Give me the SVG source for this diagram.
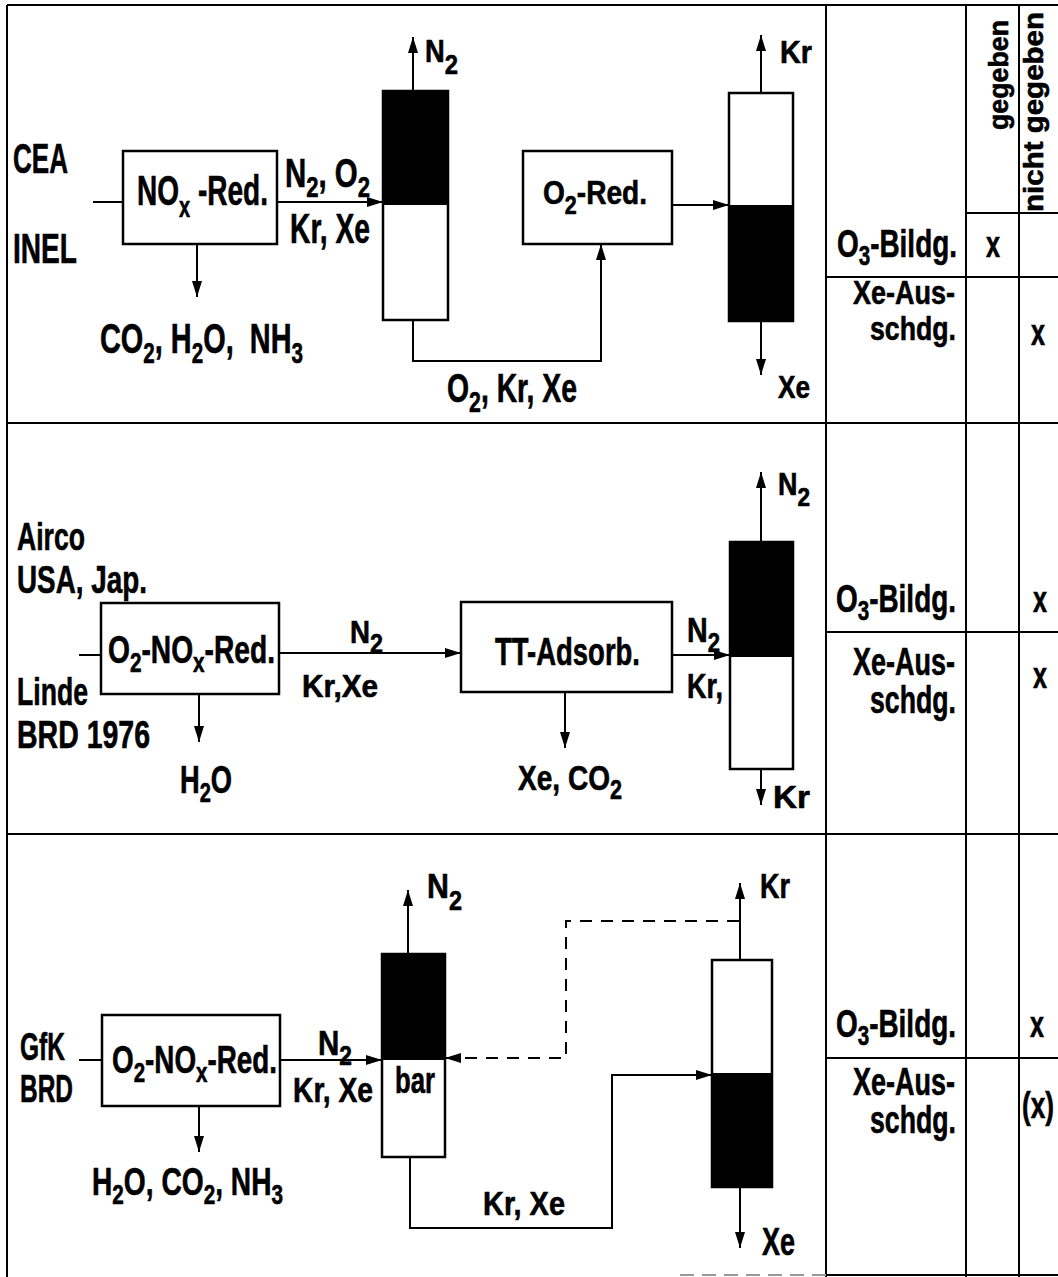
<svg xmlns="http://www.w3.org/2000/svg" width="1058" height="1277" viewBox="0 0 1058 1277">
<style>
text{font-family:"Liberation Sans",Arial,sans-serif;font-weight:bold;fill:#000;stroke:#000;stroke-width:0.6}
.box{fill:#fff;stroke:#000;stroke-width:2.5}
.col{fill:#fff;stroke:#000;stroke-width:2.5}
.blk{fill:#000}
.ln{fill:none;stroke:#000;stroke-width:2}
.dash{fill:none;stroke:#000;stroke-width:2;stroke-dasharray:12 9}
.grid{fill:none;stroke:#000;stroke-width:2}
.r{text-anchor:end}
.m{text-anchor:middle}
</style>
<defs>
<marker id="ah" viewBox="0 0 16 10" refX="16" refY="5" markerWidth="16" markerHeight="10" markerUnits="userSpaceOnUse" orient="auto"><path d="M0,0 L16,5 L0,10 z" fill="#000"/></marker>
</defs>
<rect x="0" y="0" width="1058" height="1277" fill="#fff"/>

<g id="frame">
<path class="grid" d="M7 5 V1277 M7 5 H1058 M7 423 H1058 M7 834 H1058 M826 5 V1277 M966 5 V1277 M1019 5 V1277 M966 213 H1058 M826 277 H1058 M826 632 H1058 M826 1058 H1058 M826 1275 H1058"/>
<path d="M680 1275 H826" stroke="#999" stroke-width="2" stroke-dasharray="14 8"/>
</g>

<g id="table">
<text transform="translate(1008,130) rotate(-90)" font-size="28" textLength="110" lengthAdjust="spacingAndGlyphs">gegeben</text>
<text transform="translate(1043,212) rotate(-90)" font-size="28" textLength="200" lengthAdjust="spacingAndGlyphs">nicht gegeben</text>
<text class="r" x="957" y="257" font-size="38" textLength="120" lengthAdjust="spacingAndGlyphs">O<tspan dy="8" font-size="28">3</tspan><tspan dy="-8">-Bildg.</tspan></text>
<text class="r" x="955" y="304" font-size="34" textLength="102" lengthAdjust="spacingAndGlyphs">Xe-Aus-</text>
<text class="r" x="956" y="340" font-size="34" textLength="86" lengthAdjust="spacingAndGlyphs">schdg.</text>
<text class="m" x="993" y="257" font-size="36" textLength="14" lengthAdjust="spacingAndGlyphs">x</text>
<text class="m" x="1038" y="345" font-size="36" textLength="14" lengthAdjust="spacingAndGlyphs">x</text>

<text class="r" x="956" y="612" font-size="38" textLength="120" lengthAdjust="spacingAndGlyphs">O<tspan dy="8" font-size="28">3</tspan><tspan dy="-8">-Bildg.</tspan></text>
<text class="r" x="955" y="675" font-size="38" textLength="102" lengthAdjust="spacingAndGlyphs">Xe-Aus-</text>
<text class="r" x="956" y="713" font-size="38" textLength="86" lengthAdjust="spacingAndGlyphs">schdg.</text>
<text class="m" x="1040" y="612" font-size="36" textLength="14" lengthAdjust="spacingAndGlyphs">x</text>
<text class="m" x="1040" y="688" font-size="36" textLength="14" lengthAdjust="spacingAndGlyphs">x</text>

<text class="r" x="956" y="1037" font-size="38" textLength="120" lengthAdjust="spacingAndGlyphs">O<tspan dy="8" font-size="28">3</tspan><tspan dy="-8">-Bildg.</tspan></text>
<text class="r" x="955" y="1095" font-size="38" textLength="102" lengthAdjust="spacingAndGlyphs">Xe-Aus-</text>
<text class="r" x="956" y="1133" font-size="38" textLength="86" lengthAdjust="spacingAndGlyphs">schdg.</text>
<text class="m" x="1037" y="1037" font-size="36" textLength="14" lengthAdjust="spacingAndGlyphs">x</text>
<text class="m" x="1038" y="1118" font-size="36" textLength="32" lengthAdjust="spacingAndGlyphs">(x)</text>
</g>

<g id="connectors">
<path class="ln" d="M93 202 H123"/>
<path class="ln" d="M277 202 H383" marker-end="url(#ah)"/>
<path class="ln" d="M197 244 V297" marker-end="url(#ah)"/>
<path class="ln" d="M413 91 V37" marker-end="url(#ah)"/>
<path class="ln" d="M413 320 V361 H601 V244" marker-end="url(#ah)"/>
<path class="ln" d="M672 205 H729" marker-end="url(#ah)"/>
<path class="ln" d="M761 93 V35" marker-end="url(#ah)"/>
<path class="ln" d="M761 321 V375" marker-end="url(#ah)"/>

<path class="ln" d="M79 655 H101"/>
<path class="ln" d="M279 653 H461" marker-end="url(#ah)"/>
<path class="ln" d="M199 694 V742" marker-end="url(#ah)"/>
<path class="ln" d="M565 692 V748" marker-end="url(#ah)"/>
<path class="ln" d="M672 655 H730" marker-end="url(#ah)"/>
<path class="ln" d="M761 542 V472" marker-end="url(#ah)"/>
<path class="ln" d="M761 769 V805" marker-end="url(#ah)"/>

<path class="ln" d="M79 1060 H102"/>
<path class="ln" d="M280 1060 H382" marker-end="url(#ah)"/>
<path class="ln" d="M199 1106 V1152" marker-end="url(#ah)"/>
<path class="ln" d="M408 954 V890" marker-end="url(#ah)"/>
<path class="ln" d="M410 1157 V1228 H612 V1075 H712" marker-end="url(#ah)"/>
<path class="dash" d="M739 921 H566 V1058 H445" marker-end="url(#ah)"/>
<path class="ln" d="M740 960 V883" marker-end="url(#ah)"/>
<path class="ln" d="M740 1187 V1248" marker-end="url(#ah)"/>
</g>

<!-- Section 1 -->
<g id="src1">
<text x="13" y="173" font-size="42" textLength="55" lengthAdjust="spacingAndGlyphs">CEA</text>
<text x="13" y="263" font-size="42" textLength="64" lengthAdjust="spacingAndGlyphs">INEL</text>
</g>
<g id="noxred1">
<rect class="box" x="123" y="151" width="154" height="93"/>
<text x="137" y="205" font-size="42" textLength="131" lengthAdjust="spacingAndGlyphs">NO<tspan dy="12" font-size="30">x</tspan><tspan dy="-12"> -Red.</tspan></text>
</g>
<g id="lbl1a">
<text x="285" y="187" font-size="40" textLength="85" lengthAdjust="spacingAndGlyphs">N<tspan dy="10" font-size="30">2</tspan><tspan dy="-10">, O</tspan><tspan dy="10" font-size="30">2</tspan></text>
<text x="290" y="243" font-size="42" textLength="80" lengthAdjust="spacingAndGlyphs">Kr, Xe</text>
</g>
<g id="out1a">
<text x="100" y="353" font-size="42" textLength="203" lengthAdjust="spacingAndGlyphs">CO<tspan dy="10" font-size="30">2</tspan><tspan dy="-10">, H</tspan><tspan dy="10" font-size="30">2</tspan><tspan dy="-10">O,&#160; NH</tspan><tspan dy="10" font-size="30">3</tspan></text>
</g>
<g id="col1a">
<rect class="col" x="383" y="91" width="65" height="229"/>
<rect class="blk" x="383" y="91" width="65" height="114"/>
<text x="425" y="62" font-size="31" textLength="33" lengthAdjust="spacingAndGlyphs">N<tspan dy="12" font-size="27">2</tspan></text>
</g>
<g id="o2red">
<rect class="box" x="523" y="151" width="149" height="93"/>
<text x="543" y="204" font-size="34" textLength="104" lengthAdjust="spacingAndGlyphs">O<tspan dy="10" font-size="26">2</tspan><tspan dy="-10">-Red.</tspan></text>
</g>
<g id="lbl1b">
<text x="447" y="402" font-size="40" textLength="130" lengthAdjust="spacingAndGlyphs">O<tspan dy="10" font-size="30">2</tspan><tspan dy="-10">, Kr, Xe</tspan></text>
</g>
<g id="col1b">
<rect class="col" x="729" y="93" width="64" height="228"/>
<rect class="blk" x="729" y="205" width="64" height="116"/>
<text x="780" y="63" font-size="32" textLength="32" lengthAdjust="spacingAndGlyphs">Kr</text>
<text x="778" y="398" font-size="31" textLength="32" lengthAdjust="spacingAndGlyphs">Xe</text>
</g>

<!-- Section 2 -->
<g id="src2">
<text x="17" y="550" font-size="39" textLength="68" lengthAdjust="spacingAndGlyphs">Airco</text>
<text x="17" y="593" font-size="38" textLength="130" lengthAdjust="spacingAndGlyphs">USA, Jap.</text>
<text x="17" y="705" font-size="39" textLength="71" lengthAdjust="spacingAndGlyphs">Linde</text>
<text x="17" y="748" font-size="39" textLength="133" lengthAdjust="spacingAndGlyphs">BRD 1976</text>
</g>
<g id="o2noxred2">
<rect class="box" x="101" y="603" width="178" height="91"/>
<text x="108" y="663" font-size="38" textLength="167" lengthAdjust="spacingAndGlyphs">O<tspan dy="9" font-size="28">2</tspan><tspan dy="-9">-NO</tspan><tspan dy="9" font-size="28">x</tspan><tspan dy="-9">-Red.</tspan></text>
</g>
<g id="out2a">
<text x="180" y="793" font-size="38" textLength="52" lengthAdjust="spacingAndGlyphs">H<tspan dy="9" font-size="28">2</tspan><tspan dy="-9">O</tspan></text>
</g>
<g id="lbl2a">
<text x="350" y="643" font-size="32" textLength="33" lengthAdjust="spacingAndGlyphs">N<tspan dy="10" font-size="27">2</tspan></text>
<text x="302" y="697" font-size="31" textLength="76" lengthAdjust="spacingAndGlyphs">Kr,Xe</text>
</g>
<g id="ttads">
<rect class="box" x="461" y="602" width="211" height="90"/>
<text x="495" y="665" font-size="38" textLength="145" lengthAdjust="spacingAndGlyphs">TT-Adsorb.</text>
</g>
<g id="out2b">
<text x="518" y="790" font-size="35" textLength="104" lengthAdjust="spacingAndGlyphs">Xe, CO<tspan dy="9" font-size="27">2</tspan></text>
</g>
<g id="lbl2b">
<text x="687" y="642" font-size="35" textLength="33" lengthAdjust="spacingAndGlyphs">N<tspan dy="10" font-size="27">2</tspan></text>
<text x="687" y="698" font-size="35" textLength="36" lengthAdjust="spacingAndGlyphs">Kr,</text>
</g>
<g id="col2">
<rect class="col" x="730" y="542" width="63" height="227"/>
<rect class="blk" x="730" y="542" width="63" height="115"/>
<text x="778" y="495" font-size="31" textLength="32" lengthAdjust="spacingAndGlyphs">N<tspan dy="11" font-size="26">2</tspan></text>
<text x="773" y="808" font-size="31" textLength="37" lengthAdjust="spacingAndGlyphs">Kr</text>
</g>

<!-- Section 3 -->
<g id="src3">
<text x="20" y="1060" font-size="39" textLength="45" lengthAdjust="spacingAndGlyphs">GfK</text>
<text x="20" y="1102" font-size="38" textLength="53" lengthAdjust="spacingAndGlyphs">BRD</text>
</g>
<g id="o2noxred3">
<rect class="box" x="102" y="1015" width="178" height="91"/>
<text x="112" y="1073" font-size="38" textLength="165" lengthAdjust="spacingAndGlyphs">O<tspan dy="9" font-size="28">2</tspan><tspan dy="-9">-NO</tspan><tspan dy="9" font-size="28">x</tspan><tspan dy="-9">-Red.</tspan></text>
</g>
<g id="lbl3a">
<text x="318" y="1055" font-size="35" textLength="34" lengthAdjust="spacingAndGlyphs">N<tspan dy="10" font-size="27">2</tspan></text>
<text x="293" y="1102" font-size="35" textLength="80" lengthAdjust="spacingAndGlyphs">Kr, Xe</text>
</g>
<g id="out3">
<text x="92" y="1195" font-size="38" textLength="191" lengthAdjust="spacingAndGlyphs">H<tspan dy="9" font-size="28">2</tspan><tspan dy="-9">O, CO</tspan><tspan dy="9" font-size="28">2</tspan><tspan dy="-9">, NH</tspan><tspan dy="9" font-size="28">3</tspan></text>
</g>
<g id="col3a">
<rect class="col" x="382" y="954" width="63" height="203"/>
<rect class="blk" x="382" y="954" width="63" height="106"/>
<text x="395" y="1093" font-size="36" textLength="40" lengthAdjust="spacingAndGlyphs">bar</text>
<text x="427" y="898" font-size="35" textLength="35" lengthAdjust="spacingAndGlyphs">N<tspan dy="12" font-size="27">2</tspan></text>
</g>
<g id="lbl3b">
<text x="483" y="1215" font-size="33" textLength="82" lengthAdjust="spacingAndGlyphs">Kr, Xe</text>
</g>
<g id="col3b">
<rect class="col" x="712" y="960" width="60" height="227"/>
<rect class="blk" x="712" y="1073" width="60" height="114"/>
<text x="760" y="898" font-size="35" textLength="30" lengthAdjust="spacingAndGlyphs">Kr</text>
<text x="762" y="1255" font-size="38" textLength="33" lengthAdjust="spacingAndGlyphs">Xe</text>
</g>
</svg>
